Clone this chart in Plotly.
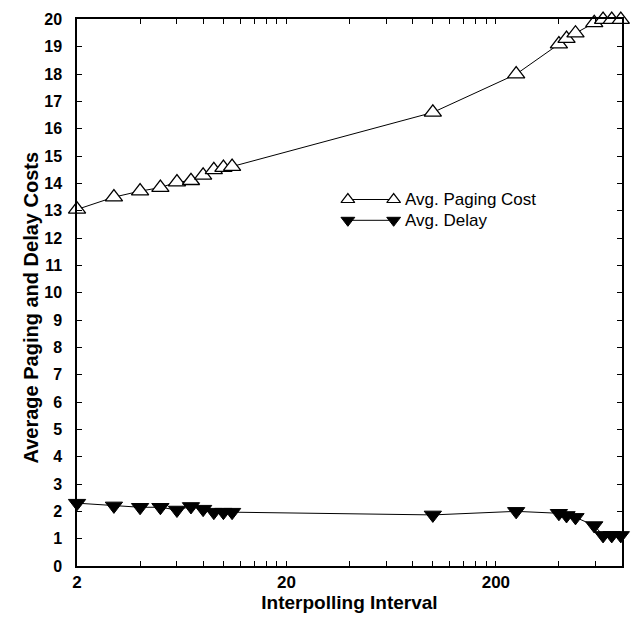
import plotly.graph_objects as go

# Interpolling interval values (log-scaled x axis)
interval = [2, 3, 4, 5, 6, 7, 8, 9, 10, 11, 100, 250, 400, 435, 480, 590, 650, 715, 790]

# Average paging cost per interval
paging_cost = [13.05, 13.5, 13.72, 13.85, 14.05, 14.1, 14.3, 14.5, 14.58, 14.62,
               16.6, 18.0, 19.1, 19.3, 19.5, 19.88, 20.0, 20.0, 20.0]

# Average delay per interval
avg_delay = [2.3, 2.2, 2.15, 2.15, 2.05, 2.18, 2.08, 1.97, 1.97, 1.97,
             1.87, 2.0, 1.93, 1.85, 1.78, 1.48, 1.12, 1.12, 1.12]

x_tickvals = [2, 4, 6, 8, 10, 12, 14, 16, 18, 20,
              40, 60, 80, 100, 120, 140, 160, 180, 200, 400, 600, 800]
x_labels = {2: "2", 20: "20", 200: "200"}
x_ticktext = [x_labels.get(v, "") for v in x_tickvals]
y_tickvals = list(range(0, 21))

FONT = "Liberation Sans, Arial, sans-serif"

fig = go.Figure()

fig.add_trace(go.Scatter(
    x=interval, y=paging_cost, mode="lines+markers", name="Avg. Paging Cost",
    line=dict(color="black", width=1),
    marker=dict(symbol="triangle-up", size=15, color="white",
                line=dict(color="black", width=1.3)),
    cliponaxis=False, showlegend=False,
))
fig.add_trace(go.Scatter(
    x=interval, y=avg_delay, mode="lines+markers", name="Avg. Delay",
    line=dict(color="black", width=1),
    marker=dict(symbol="triangle-down", size=15, color="black",
                line=dict(color="black", width=1)),
    cliponaxis=False, showlegend=False,
))

# Legend samples drawn on an overlay axis spanning the plot area (0..1)
legend_names = ["Avg. Paging Cost", "Avg. Delay"]
legend_y = [0.670, 0.632]
legend_style = [
    dict(symbol="triangle-up", size=12, color="white", line=dict(color="black", width=1.2)),
    dict(symbol="triangle-down", size=12, color="black", line=dict(color="black", width=1)),
]
for name, ly, mk in zip(legend_names, legend_y, legend_style):
    fig.add_trace(go.Scatter(
        x=[0.497, 0.581], y=[ly, ly], mode="lines+markers",
        xaxis="x2", yaxis="y2", line=dict(color="black", width=1),
        marker=mk, showlegend=False, hoverinfo="skip", cliponaxis=False,
    ))
    fig.add_annotation(
        x=0.598, y=ly, xref="x2", yref="y2", text=name, showarrow=False,
        xanchor="left", yanchor="middle",
        font=dict(family=FONT, size=17, color="black"),
    )

# Vertical axis title
fig.add_annotation(
    x=-0.084, y=0.473, xref="paper", yref="paper",
    text="Average Paging and Delay Costs", showarrow=False, textangle=-90,
    xanchor="center", yanchor="middle",
    font=dict(family=FONT, size=20, color="black", weight="bold"),
)

fig.update_layout(
    width=635, height=618,
    margin=dict(l=77, r=11, t=13, b=47),
    paper_bgcolor="white", plot_bgcolor="white",
    xaxis=dict(
        type="log", range=[0.30082, 2.90336],
        tickvals=x_tickvals, ticktext=x_ticktext,
        ticks="inside", ticklen=5, tickwidth=1, tickcolor="black",
        showline=True, linecolor="black", linewidth=1.5, mirror="ticks",
        showgrid=False, zeroline=False,
        tickfont=dict(family=FONT, size=17, color="black", weight="bold"),
        title=dict(text="Interpolling Interval", standoff=2,
                   font=dict(family=FONT, size=19, color="black", weight="bold")),
    ),
    yaxis=dict(
        range=[0, 20.02], tickvals=y_tickvals,
        ticks="inside", ticklen=5, tickwidth=1, tickcolor="black",
        showline=True, linecolor="black", linewidth=1.5, mirror="ticks",
        showgrid=False, zeroline=False, ticklabelstandoff=10,
        tickfont=dict(family=FONT, size=16, color="black", weight="bold"),
    ),
    xaxis2=dict(overlaying="x", range=[0, 1], visible=False, domain=[0, 1]),
    yaxis2=dict(overlaying="y", range=[0, 1], visible=False, domain=[0, 1]),
)

fig.write_html("out.html")
